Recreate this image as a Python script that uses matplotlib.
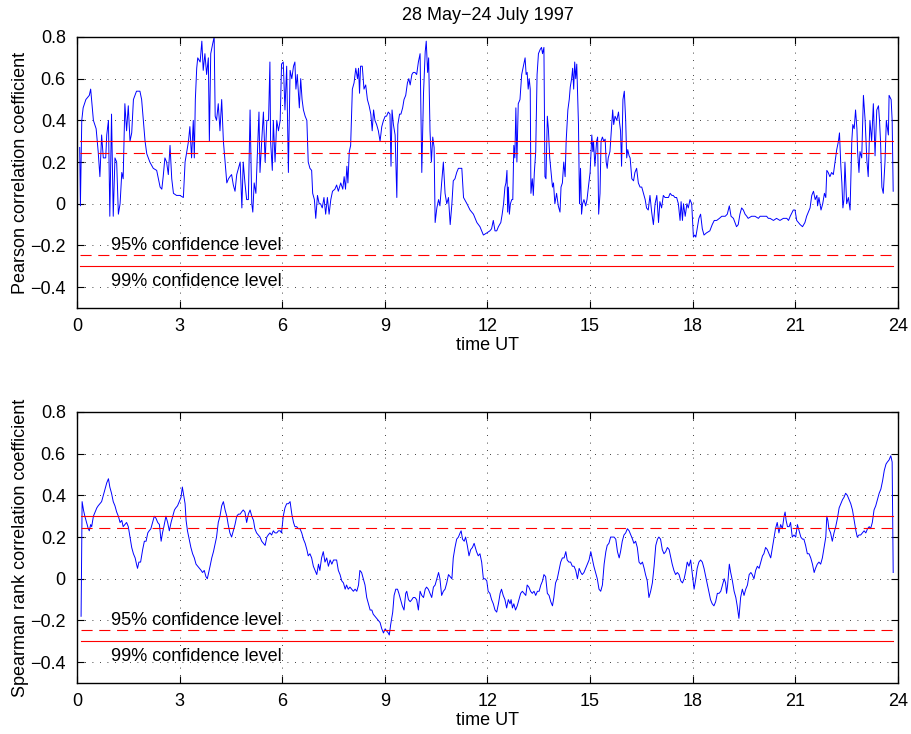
import numpy as np
import matplotlib
matplotlib.use("Agg")
import matplotlib.pyplot as plt

plt.rcParams['font.family'] = ['Liberation Sans', 'DejaVu Sans']

# Pearson correlation
pearson_hours = [
    0.08, 0.10, 0.14, 0.18, 0.26, 0.36, 0.40, 0.48, 0.56, 0.62, 0.67, 0.72, 0.77, 0.84, 0.87, 0.92,
    0.96, 1.01, 1.06, 1.11, 1.16, 1.21, 1.26, 1.31, 1.35, 1.40, 1.45, 1.50, 1.55, 1.60, 1.65, 1.74,
    1.84, 1.89, 1.99, 2.04, 2.13, 2.23, 2.33, 2.38, 2.43, 2.48, 2.52, 2.57, 2.62, 2.67, 2.72, 2.77,
    2.82, 2.91, 3.01, 3.11, 3.16, 3.26, 3.30, 3.35, 3.40, 3.43, 3.46, 3.50, 3.53, 3.60, 3.65, 3.69,
    3.74, 3.79, 3.84, 3.87, 3.91, 3.97, 4.01, 4.04, 4.08, 4.13, 4.18, 4.23, 4.28, 4.33, 4.38, 4.43,
    4.47, 4.52, 4.57, 4.62, 4.67, 4.72, 4.77, 4.82, 4.86, 4.91, 4.96, 5.01, 5.06, 5.11, 5.14, 5.18,
    5.23, 5.27, 5.32, 5.35, 5.40, 5.45, 5.50, 5.55, 5.60, 5.64, 5.66, 5.71, 5.74, 5.79, 5.84, 5.89,
    5.94, 5.98, 6.03, 6.08, 6.13, 6.18, 6.23, 6.28, 6.33, 6.37, 6.40, 6.44, 6.50, 6.54, 6.58, 6.62,
    6.67, 6.72, 6.76, 6.81, 6.86, 6.89, 6.94, 6.98, 7.03, 7.08, 7.12, 7.17, 7.22, 7.27, 7.32, 7.37,
    7.42, 7.47, 7.54, 7.59, 7.64, 7.71, 7.77, 7.81, 7.85, 7.89, 7.92, 7.96, 8.00, 8.05, 8.10, 8.15,
    8.20, 8.23, 8.26, 8.29, 8.34, 8.39, 8.44, 8.49, 8.54, 8.59, 8.63, 8.67, 8.71, 8.76, 8.81, 8.86,
    8.91, 8.96, 9.01, 9.05, 9.10, 9.15, 9.18, 9.21, 9.25, 9.30, 9.35, 9.38, 9.43, 9.47, 9.52, 9.56,
    9.61, 9.66, 9.70, 9.74, 9.79, 9.83, 9.88, 9.93, 9.98, 10.03, 10.08, 10.13, 10.18, 10.21, 10.25, 10.28,
    10.32, 10.36, 10.40, 10.44, 10.47, 10.52, 10.57, 10.61, 10.66, 10.71, 10.76, 10.81, 10.86, 10.91, 10.96, 11.00,
    11.05, 11.10, 11.15, 11.20, 11.25, 11.30, 11.40, 11.49, 11.59, 11.69, 11.78, 11.88, 11.98, 12.07, 12.12, 12.17,
    12.22, 12.27, 12.32, 12.39, 12.43, 12.47, 12.51, 12.54, 12.57, 12.59, 12.61, 12.64, 12.67, 12.71, 12.74, 12.77,
    12.80, 12.83, 12.86, 12.90, 12.95, 13.00, 13.05, 13.10, 13.13, 13.16, 13.19, 13.22, 13.25, 13.27, 13.31, 13.34,
    13.37, 13.41, 13.45, 13.49, 13.54, 13.58, 13.61, 13.65, 13.68, 13.71, 13.75, 13.78, 13.82, 13.86, 13.90, 13.93,
    13.97, 14.02, 14.07, 14.12, 14.15, 14.19, 14.23, 14.27, 14.30, 14.35, 14.39, 14.42, 14.46, 14.49, 14.52, 14.55,
    14.58, 14.61, 14.66, 14.69, 14.72, 14.75, 14.78, 14.82, 14.87, 14.91, 14.95, 15.00, 15.05, 15.08, 15.10, 15.14,
    15.19, 15.22, 15.25, 15.29, 15.32, 15.36, 15.40, 15.44, 15.47, 15.50, 15.53, 15.58, 15.63, 15.66, 15.69, 15.73,
    15.78, 15.83, 15.86, 15.89, 15.92, 15.96, 16.00, 16.04, 16.07, 16.10, 16.14, 16.17, 16.22, 16.27, 16.31, 16.36,
    16.41, 16.46, 16.51, 16.56, 16.61, 16.65, 16.70, 16.75, 16.80, 16.85, 16.90, 16.95, 17.00, 17.04, 17.09, 17.14,
    17.19, 17.24, 17.29, 17.34, 17.39, 17.43, 17.48, 17.53, 17.58, 17.63, 17.66, 17.70, 17.73, 17.78, 17.83, 17.87,
    17.92, 17.97, 18.02, 18.06, 18.09, 18.13, 18.18, 18.23, 18.28, 18.33, 18.40, 18.50, 18.57, 18.63, 18.70, 18.78,
    18.85, 18.95, 19.01, 19.07, 19.12, 19.19, 19.28, 19.33, 19.38, 19.43, 19.48, 19.53, 19.58, 19.62, 19.72, 19.82,
    19.92, 19.97, 20.06, 20.16, 20.21, 20.26, 20.36, 20.45, 20.55, 20.65, 20.75, 20.80, 20.85, 20.94, 20.99, 21.04,
    21.14, 21.21, 21.28, 21.33, 21.38, 21.43, 21.48, 21.53, 21.58, 21.63, 21.65, 21.69, 21.75, 21.80, 21.85, 21.89,
    21.92, 21.96, 22.01, 22.06, 22.11, 22.16, 22.21, 22.26, 22.29, 22.33, 22.36, 22.39, 22.42, 22.45, 22.50, 22.55,
    22.60, 22.65, 22.68, 22.72, 22.76, 22.80, 22.82, 22.86, 22.89, 22.94, 22.99, 23.04, 23.09, 23.13, 23.18, 23.23,
    23.28, 23.33, 23.38, 23.43, 23.46, 23.49, 23.53, 23.57, 23.62, 23.66, 23.72, 23.74, 23.80, 23.83, 23.86,
]
pearson_values = [
    0.27, -0.01, 0.40, 0.46, 0.50, 0.52, 0.55, 0.40, 0.36, 0.25, 0.13, 0.33, 0.22, 0.22, 0.33, 0.40,
    -0.06, 0.43, -0.06, 0.22, 0.20, -0.05, 0.00, 0.15, 0.12, 0.48, 0.35, 0.47, 0.30, 0.34, 0.50, 0.54,
    0.54, 0.50, 0.30, 0.24, 0.20, 0.17, 0.16, 0.12, 0.08, 0.07, 0.13, 0.22, 0.20, 0.14, 0.28, 0.12,
    0.05, 0.04, 0.04, 0.03, 0.20, 0.30, 0.37, 0.22, 0.40, 0.22, 0.50, 0.65, 0.70, 0.68, 0.78, 0.64,
    0.72, 0.62, 0.70, 0.30, 0.72, 0.77, 0.80, 0.42, 0.40, 0.48, 0.35, 0.50, 0.30, 0.20, 0.10, 0.12,
    0.13, 0.14, 0.09, 0.06, 0.14, 0.17, 0.20, -0.02, 0.20, 0.10, 0.02, 0.02, 0.45, 0.00, -0.04, 0.10,
    0.05, 0.22, 0.44, 0.15, 0.30, 0.44, 0.20, 0.40, 0.40, 0.68, 0.30, 0.16, 0.40, 0.20, 0.40, 0.35,
    0.40, 0.67, 0.68, 0.45, 0.66, 0.15, 0.64, 0.60, 0.66, 0.68, 0.55, 0.62, 0.46, 0.60, 0.50, 0.45,
    0.42, 0.40, 0.20, 0.17, 0.16, 0.05, 0.02, -0.07, 0.04, 0.00, 0.00, -0.02, 0.03, -0.05, 0.03, -0.05,
    0.02, 0.06, 0.07, 0.09, 0.06, 0.10, 0.07, 0.13, 0.07, 0.18, 0.10, 0.25, 0.28, 0.55, 0.58, 0.65,
    0.60, 0.65, 0.53, 0.66, 0.66, 0.55, 0.57, 0.50, 0.47, 0.43, 0.35, 0.45, 0.40, 0.38, 0.35, 0.30,
    0.37, 0.40, 0.42, 0.42, 0.44, 0.43, 0.18, 0.45, 0.38, 0.33, 0.03, 0.38, 0.43, 0.43, 0.46, 0.50,
    0.52, 0.58, 0.60, 0.57, 0.62, 0.63, 0.63, 0.62, 0.68, 0.72, 0.15, 0.53, 0.73, 0.78, 0.63, 0.70,
    0.35, 0.20, 0.32, 0.27, -0.09, -0.02, 0.02, -0.01, 0.10, 0.20, 0.05, 0.00, 0.03, -0.10, 0.00, 0.11,
    0.12, 0.15, 0.17, 0.17, 0.17, 0.03, 0.00, -0.03, -0.05, -0.09, -0.11, -0.15, -0.14, -0.13, -0.12, -0.08,
    -0.13, -0.13, -0.11, -0.09, -0.05, 0.00, 0.08, 0.10, 0.16, -0.04, 0.08, -0.05, 0.00, 0.02, 0.02, 0.28,
    0.22, 0.46, 0.20, 0.48, 0.50, 0.62, 0.66, 0.70, 0.62, 0.63, 0.55, 0.60, 0.55, 0.05, 0.12, 0.04,
    0.15, 0.25, 0.62, 0.72, 0.74, 0.75, 0.72, 0.75, 0.13, 0.12, 0.42, 0.36, 0.22, 0.15, 0.08, 0.10,
    0.00, 0.05, -0.01, -0.04, 0.08, 0.10, 0.20, 0.13, 0.30, 0.45, 0.50, 0.56, 0.60, 0.65, 0.55, 0.68,
    0.60, 0.67, 0.38, 0.00, 0.17, -0.05, 0.00, 0.02, -0.01, 0.02, 0.08, 0.15, 0.33, 0.25, 0.30, 0.18,
    0.30, 0.32, -0.05, 0.05, 0.30, 0.32, 0.30, 0.31, 0.20, 0.17, 0.22, 0.25, 0.38, 0.45, 0.38, 0.42,
    0.40, 0.44, 0.39, 0.35, 0.18, 0.50, 0.54, 0.40, 0.22, 0.26, 0.23, 0.22, 0.12, 0.11, 0.15, 0.17,
    0.10, 0.08, 0.08, 0.05, 0.02, -0.02, -0.03, 0.04, -0.04, -0.10, 0.00, 0.04, -0.09, 0.01, -0.02, 0.04,
    0.03, 0.03, 0.03, 0.05, 0.04, 0.04, 0.03, 0.03, 0.00, -0.08, 0.01, -0.08, 0.00, -0.06, 0.00, -0.02,
    0.02, 0.00, -0.16, -0.15, -0.16, -0.12, -0.07, -0.05, -0.12, -0.15, -0.14, -0.13, -0.10, -0.08, -0.08, -0.07,
    -0.06, -0.06, -0.05, -0.01, -0.06, -0.07, -0.11, -0.10, -0.05, -0.02, -0.03, -0.05, -0.06, -0.07, -0.06, -0.06,
    -0.07, -0.06, -0.06, -0.06, -0.07, -0.07, -0.08, -0.07, -0.08, -0.07, -0.07, -0.08, -0.06, -0.03, -0.03, -0.08,
    -0.10, -0.11, -0.09, -0.06, -0.04, -0.02, 0.04, 0.06, 0.02, 0.04, -0.01, 0.03, -0.03, 0.00, 0.05, 0.03,
    0.16, 0.15, 0.13, 0.15, 0.14, 0.20, 0.26, 0.30, 0.34, 0.18, 0.10, -0.02, 0.02, 0.20, 0.00, 0.03,
    -0.03, 0.30, 0.38, 0.36, 0.45, 0.36, 0.25, 0.15, 0.25, 0.22, 0.52, 0.40, 0.21, 0.13, 0.40, 0.30,
    0.48, 0.23, 0.45, 0.47, 0.40, 0.30, 0.08, 0.05, 0.20, 0.40, 0.33, 0.52, 0.50, 0.40, 0.06,
]

# Spearman rank correlation
spearman_hours = [
    0.12, 0.15, 0.19, 0.23, 0.28, 0.33, 0.36, 0.40, 0.43, 0.48, 0.53, 0.58, 0.62, 0.67, 0.72, 0.77,
    0.82, 0.87, 0.92, 0.96, 1.01, 1.06, 1.11, 1.16, 1.21, 1.26, 1.31, 1.35, 1.40, 1.45, 1.50, 1.55,
    1.60, 1.65, 1.70, 1.74, 1.77, 1.81, 1.86, 1.92, 1.97, 2.02, 2.07, 2.11, 2.16, 2.21, 2.26, 2.31,
    2.36, 2.41, 2.46, 2.50, 2.54, 2.60, 2.65, 2.70, 2.75, 2.80, 2.85, 2.89, 2.94, 2.99, 3.04, 3.08,
    3.12, 3.16, 3.19, 3.23, 3.28, 3.33, 3.38, 3.43, 3.48, 3.53, 3.58, 3.63, 3.67, 3.72, 3.77, 3.81,
    3.85, 3.89, 3.94, 3.99, 4.04, 4.08, 4.13, 4.18, 4.23, 4.28, 4.33, 4.38, 4.42, 4.47, 4.52, 4.57,
    4.62, 4.67, 4.72, 4.77, 4.81, 4.86, 4.91, 4.96, 5.01, 5.06, 5.11, 5.16, 5.20, 5.25, 5.30, 5.35,
    5.40, 5.45, 5.50, 5.55, 5.59, 5.64, 5.69, 5.74, 5.79, 5.84, 5.89, 5.94, 5.98, 6.03, 6.08, 6.13,
    6.18, 6.23, 6.28, 6.33, 6.37, 6.42, 6.47, 6.52, 6.57, 6.62, 6.67, 6.72, 6.76, 6.81, 6.86, 6.91,
    6.96, 7.01, 7.06, 7.10, 7.15, 7.20, 7.25, 7.30, 7.35, 7.40, 7.45, 7.50, 7.54, 7.59, 7.64, 7.69,
    7.74, 7.79, 7.84, 7.88, 7.93, 7.98, 8.03, 8.08, 8.13, 8.18, 8.23, 8.27, 8.32, 8.37, 8.42, 8.47,
    8.52, 8.57, 8.62, 8.66, 8.71, 8.76, 8.81, 8.86, 8.91, 8.96, 9.01, 9.05, 9.10, 9.13, 9.17, 9.20,
    9.23, 9.27, 9.32, 9.37, 9.41, 9.46, 9.51, 9.56, 9.61, 9.64, 9.69, 9.74, 9.79, 9.83, 9.88, 9.93,
    9.98, 10.03, 10.08, 10.13, 10.18, 10.22, 10.27, 10.32, 10.37, 10.42, 10.47, 10.52, 10.57, 10.61, 10.66, 10.71,
    10.76, 10.81, 10.86, 10.91, 10.96, 11.00, 11.05, 11.10, 11.15, 11.20, 11.23, 11.27, 11.32, 11.36, 11.41, 11.46,
    11.51, 11.56, 11.61, 11.68, 11.73, 11.78, 11.83, 11.88, 11.93, 11.98, 12.02, 12.07, 12.12, 12.17, 12.22, 12.27,
    12.32, 12.37, 12.41, 12.46, 12.51, 12.56, 12.61, 12.66, 12.69, 12.73, 12.77, 12.82, 12.87, 12.92, 12.97, 13.02,
    13.07, 13.12, 13.16, 13.21, 13.26, 13.31, 13.36, 13.41, 13.46, 13.51, 13.56, 13.61, 13.65, 13.70, 13.75, 13.80,
    13.85, 13.90, 13.94, 13.99, 14.04, 14.09, 14.14, 14.19, 14.24, 14.29, 14.33, 14.38, 14.43, 14.48, 14.53, 14.58,
    14.63, 14.68, 14.73, 14.77, 14.82, 14.87, 14.92, 14.97, 15.02, 15.07, 15.11, 15.16, 15.21, 15.26, 15.31, 15.36,
    15.41, 15.46, 15.50, 15.55, 15.60, 15.65, 15.70, 15.75, 15.80, 15.85, 15.89, 15.94, 15.99, 16.04, 16.09, 16.14,
    16.19, 16.24, 16.28, 16.33, 16.38, 16.43, 16.48, 16.53, 16.58, 16.62, 16.67, 16.72, 16.77, 16.82, 16.87, 16.92,
    16.97, 17.01, 17.06, 17.11, 17.16, 17.21, 17.26, 17.31, 17.36, 17.40, 17.45, 17.50, 17.55, 17.60, 17.65, 17.70,
    17.75, 17.80, 17.84, 17.89, 17.94, 17.99, 18.04, 18.09, 18.13, 18.18, 18.23, 18.28, 18.33, 18.38, 18.43, 18.48,
    18.52, 18.57, 18.62, 18.67, 18.72, 18.77, 18.82, 18.87, 18.92, 18.96, 18.99, 19.02, 19.07, 19.11, 19.16, 19.21,
    19.26, 19.30, 19.35, 19.40, 19.45, 19.50, 19.55, 19.60, 19.65, 19.70, 19.74, 19.79, 19.84, 19.89, 19.94, 19.99,
    20.04, 20.08, 20.13, 20.18, 20.23, 20.28, 20.33, 20.38, 20.42, 20.47, 20.52, 20.57, 20.62, 20.67, 20.70, 20.73,
    20.77, 20.82, 20.86, 20.91, 20.96, 21.01, 21.06, 21.11, 21.16, 21.21, 21.25, 21.30, 21.35, 21.40, 21.45, 21.50,
    21.55, 21.59, 21.64, 21.69, 21.74, 21.79, 21.84, 21.89, 21.92, 21.95, 21.98, 22.03, 22.08, 22.13, 22.18, 22.23,
    22.28, 22.33, 22.38, 22.42, 22.47, 22.52, 22.57, 22.62, 22.67, 22.72, 22.77, 22.81, 22.86, 22.91, 22.96, 23.01,
    23.06, 23.11, 23.16, 23.20, 23.25, 23.30, 23.35, 23.40, 23.45, 23.50, 23.55, 23.60, 23.65, 23.69, 23.74, 23.79,
    23.83, 23.85, 23.86,
]
spearman_values = [
    -0.18, 0.37, 0.33, 0.30, 0.27, 0.24, 0.23, 0.26, 0.25, 0.30, 0.32, 0.34, 0.35, 0.36, 0.37, 0.40,
    0.43, 0.46, 0.48, 0.44, 0.41, 0.37, 0.35, 0.32, 0.30, 0.27, 0.28, 0.25, 0.26, 0.27, 0.25, 0.20,
    0.15, 0.12, 0.10, 0.07, 0.05, 0.08, 0.08, 0.14, 0.18, 0.18, 0.22, 0.23, 0.24, 0.27, 0.30, 0.29,
    0.27, 0.26, 0.18, 0.22, 0.25, 0.30, 0.27, 0.23, 0.27, 0.30, 0.33, 0.34, 0.35, 0.37, 0.39, 0.44,
    0.40, 0.36, 0.28, 0.23, 0.19, 0.15, 0.12, 0.10, 0.07, 0.06, 0.05, 0.04, 0.03, 0.04, 0.01, 0.00,
    0.03, 0.06, 0.10, 0.13, 0.17, 0.20, 0.27, 0.30, 0.35, 0.37, 0.33, 0.30, 0.26, 0.22, 0.20, 0.23,
    0.26, 0.30, 0.31, 0.31, 0.32, 0.33, 0.32, 0.27, 0.31, 0.33, 0.30, 0.28, 0.24, 0.22, 0.21, 0.20,
    0.18, 0.17, 0.16, 0.20, 0.21, 0.22, 0.21, 0.23, 0.22, 0.22, 0.23, 0.23, 0.22, 0.30, 0.34, 0.36,
    0.36, 0.37, 0.31, 0.27, 0.25, 0.25, 0.24, 0.24, 0.22, 0.19, 0.17, 0.14, 0.11, 0.12, 0.10, 0.06,
    0.04, 0.02, 0.07, 0.04, 0.10, 0.13, 0.08, 0.10, 0.06, 0.09, 0.07, 0.09, 0.09, 0.09, 0.04, 0.02,
    -0.01, -0.02, -0.05, -0.03, -0.05, -0.04, -0.05, -0.06, -0.05, -0.06, -0.03, 0.04, 0.03, 0.00, -0.03, -0.09,
    -0.12, -0.15, -0.15, -0.17, -0.18, -0.19, -0.20, -0.21, -0.24, -0.26, -0.24, -0.25, -0.26, -0.27, -0.22, -0.19,
    -0.16, -0.08, -0.05, -0.05, -0.07, -0.10, -0.13, -0.15, -0.07, -0.06, -0.10, -0.11, -0.10, -0.09, -0.09, -0.10,
    -0.15, -0.06, -0.08, -0.09, -0.05, -0.04, -0.05, -0.07, -0.09, -0.04, -0.03, 0.00, 0.03, 0.00, -0.08, -0.06,
    -0.05, -0.02, 0.02, 0.01, 0.00, 0.10, 0.15, 0.19, 0.20, 0.22, 0.23, 0.19, 0.18, 0.20, 0.16, 0.11,
    0.14, 0.15, 0.17, 0.13, 0.11, 0.12, 0.08, 0.00, 0.00, -0.01, -0.06, -0.07, -0.10, -0.12, -0.15, -0.16,
    -0.12, -0.07, -0.05, -0.08, -0.10, -0.14, -0.10, -0.12, -0.10, -0.14, -0.12, -0.15, -0.13, -0.10, -0.07, -0.06,
    -0.07, -0.08, -0.03, -0.04, -0.06, -0.07, -0.06, -0.08, -0.06, -0.06, -0.03, -0.01, 0.02, 0.01, -0.07, -0.08,
    -0.11, -0.13, -0.09, -0.02, 0.00, 0.04, 0.08, 0.10, 0.10, 0.13, 0.09, 0.08, 0.08, 0.06, 0.06, 0.04,
    0.00, 0.05, 0.03, 0.02, 0.03, 0.05, 0.07, 0.09, 0.13, 0.09, 0.06, 0.03, 0.00, -0.05, -0.06, -0.03,
    0.07, 0.13, 0.16, 0.17, 0.20, 0.20, 0.20, 0.19, 0.13, 0.10, 0.13, 0.18, 0.21, 0.22, 0.24, 0.23,
    0.21, 0.19, 0.17, 0.18, 0.15, 0.08, 0.07, 0.08, 0.05, 0.02, -0.01, -0.09, -0.06, -0.02, 0.06, 0.16,
    0.19, 0.20, 0.19, 0.14, 0.12, 0.13, 0.15, 0.14, 0.10, 0.07, 0.04, 0.02, 0.03, 0.02, -0.01, -0.02,
    0.00, 0.04, 0.08, 0.06, 0.09, 0.02, -0.05, 0.00, 0.05, 0.08, 0.09, 0.08, 0.05, 0.01, -0.03, -0.07,
    -0.10, -0.12, -0.13, -0.11, -0.07, -0.07, -0.06, -0.03, 0.00, -0.02, -0.07, -0.03, 0.07, 0.03, -0.01, -0.06,
    -0.09, -0.13, -0.19, -0.09, -0.05, -0.08, -0.05, -0.03, 0.02, 0.03, 0.02, 0.00, 0.04, 0.06, 0.05, 0.08,
    0.11, 0.12, 0.15, 0.14, 0.12, 0.10, 0.15, 0.20, 0.24, 0.27, 0.22, 0.26, 0.24, 0.30, 0.32, 0.28,
    0.25, 0.25, 0.27, 0.20, 0.21, 0.20, 0.26, 0.23, 0.20, 0.19, 0.19, 0.16, 0.12, 0.12, 0.10, 0.07,
    0.03, 0.05, 0.07, 0.08, 0.07, 0.10, 0.15, 0.20, 0.30, 0.28, 0.24, 0.22, 0.18, 0.22, 0.25, 0.29,
    0.34, 0.36, 0.38, 0.39, 0.41, 0.40, 0.38, 0.36, 0.33, 0.28, 0.23, 0.20, 0.21, 0.21, 0.22, 0.23,
    0.22, 0.24, 0.25, 0.24, 0.27, 0.33, 0.35, 0.38, 0.41, 0.43, 0.47, 0.52, 0.55, 0.56, 0.57, 0.59,
    0.56, 0.20, 0.03,
]

level_99 = 0.3
level_95 = 0.245
xticks = [0, 3, 6, 9, 12, 15, 18, 21, 24]
yticks = [-0.4, -0.2, 0, 0.2, 0.4, 0.6, 0.8]
ytick_labels = ['\u22120.4', '\u22120.2', '0', '0.2', '0.4', '0.6', '0.8']
ylabels = ['Pearson correlation coefficient', 'Spearman rank correlation coefficient']

fig = plt.figure(figsize=(9.11, 7.34), dpi=100)
ax1 = fig.add_axes([0.0845, 0.5804, 0.9012, 0.3692])
ax2 = fig.add_axes([0.0845, 0.0695, 0.9012, 0.3692])

series = [(pearson_hours, pearson_values), (spearman_hours, spearman_values)]
for ax, (hrs, vals), lab in zip([ax1, ax2], series, ylabels):
    hrs = np.array(hrs)
    vals = np.array(vals)
    ax.plot(hrs, vals, color='blue', lw=0.7)
    x0, x1 = hrs[0], hrs[-1]
    # confidence levels: solid 99%, dashed 95%
    ax.plot([x0, x1], [level_99, level_99], color='red', lw=0.8)
    ax.plot([x0, x1], [-level_99, -level_99], color='red', lw=0.8)
    ax.plot([x0, x1], [level_95, level_95], color='red', lw=0.8, dashes=(10, 6))
    ax.plot([x0, x1], [-level_95, -level_95], color='red', lw=0.8, dashes=(10, 6))
    ax.text(0.98, -0.20, '95% confidence level', fontsize=13, va='center', ha='left')
    ax.text(0.98, -0.373, '99% confidence level', fontsize=13, va='center', ha='left')

    ax.set_xlim(0, 24)
    ax.set_ylim(-0.5, 0.8)
    ax.set_xticks(xticks)
    ax.set_yticks(yticks)
    ax.set_yticklabels(ytick_labels)
    ax.tick_params(direction='in', top=True, right=True, length=5, width=0.8,
                   labelsize=13)
    ax.tick_params(axis='x', pad=7)
    ax.tick_params(axis='y', pad=8)
    ax.grid(True, color='k', lw=0.6, linestyle=(0, (1, 8)))
    for s in ax.spines.values():
        s.set_linewidth(1.0)
    ax.set_xlabel('time UT', fontsize=13, labelpad=2)
    ax.set_ylabel(lab, fontsize=13)
    ax.yaxis.set_label_coords(-0.058, 0.5)

ax1.set_title('28 May\u221224 July 1997', fontsize=13, pad=12)

fig.savefig('out.png', dpi=100)
